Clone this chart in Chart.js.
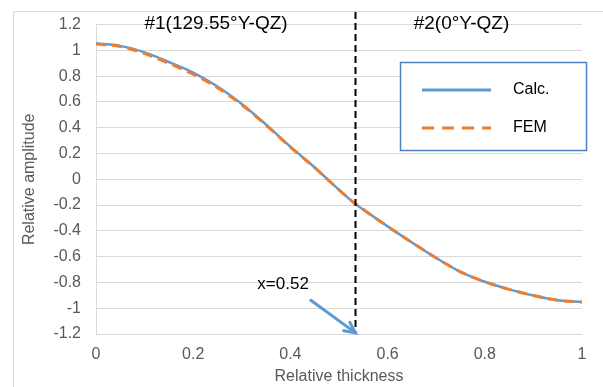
<!DOCTYPE html>
<html>
<head>
<meta charset="utf-8">
<script src="https://cdn.jsdelivr.net/npm/chart.js@4"></script>
<style>
  html, body { margin: 0; padding: 0; background: #fff; }
  #wrap { width: 603px; height: 387px; position: relative; }
</style>
</head>
<body>
<div id="wrap"><canvas id="c" width="603" height="387"></canvas></div>
<script>
// ---- data ----
const thickness = [0, 0.05, 0.1, 0.15, 0.2, 0.25, 0.3, 0.35, 0.4, 0.45, 0.5, 0.53, 0.55, 0.6, 0.65, 0.7, 0.75, 0.8, 0.85, 0.9, 0.95, 1];
const calcValues = [1.054, 1.035, 0.985, 0.91, 0.828, 0.72, 0.584, 0.424, 0.253, 0.092, -0.081, -0.18, -0.235, -0.365, -0.49, -0.61, -0.718, -0.795, -0.854, -0.902, -0.938, -0.951];
const femValues  = [1.05, 1.03, 0.975, 0.90, 0.815, 0.71, 0.578, 0.42, 0.25, 0.09, -0.082, -0.18, -0.235, -0.365, -0.49, -0.61, -0.718, -0.795, -0.854, -0.902, -0.938, -0.952];
const seriesNames = ['Calc.', 'FEM'];
const xTickValues = [0, 0.2, 0.4, 0.6, 0.8, 1];
const xTickLabels = ['0', '0.2', '0.4', '0.6', '0.8', '1'];
const yTickValues = [-1.2, -1, -0.8, -0.6, -0.4, -0.2, 0, 0.2, 0.4, 0.6, 0.8, 1, 1.2];
const yTickLabels = ['-1.2', '-1', '-0.8', '-0.6', '-0.4', '-0.2', '0', '0.2', '0.4', '0.6', '0.8', '1', '1.2'];
const interfaceX = 0.532;
const regionTitles = ['#1(129.55°Y-QZ)', '#2(0°Y-QZ)'];
const annotationText = 'x=0.52';

const BLUE = '#5B9BD5';
const ORANGE = '#ED7D31';
const FONT = "'Liberation Sans', Arial, sans-serif";

const calcData = thickness.map((x, i) => ({ x: x, y: calcValues[i] }));
const femData = thickness.map((x, i) => ({ x: x, y: femValues[i] }));

const decorPlugin = {
  id: 'decor',
  beforeDraw(chart) {
    const ctx = chart.ctx;
    ctx.save();
    ctx.fillStyle = '#fff';
    ctx.fillRect(0, 0, chart.width, chart.height);
    ctx.strokeStyle = '#D9D9D9';
    ctx.lineWidth = 1;
    ctx.beginPath();
    ctx.moveTo(13.5, chart.height);
    ctx.lineTo(13.5, 11.5);
    ctx.lineTo(chart.width, 11.5);
    ctx.stroke();
    ctx.restore();
  },
  afterDatasetsDraw(chart) {
    const ctx = chart.ctx;
    const xs = chart.scales.x, ys = chart.scales.y;
    const area = chart.chartArea;
    ctx.save();
    // interface dashed line
    const px = Math.round(xs.getPixelForValue(interfaceX)) + 0.5;
    ctx.strokeStyle = '#000';
    ctx.lineWidth = 2;
    ctx.setLineDash([7, 4]);
    ctx.beginPath();
    ctx.moveTo(px, 12);
    ctx.lineTo(px, area.bottom);
    ctx.stroke();
    ctx.setLineDash([]);

    // region titles
    ctx.fillStyle = '#000';
    ctx.font = '19px ' + FONT;
    ctx.textAlign = 'center';
    ctx.textBaseline = 'middle';
    ctx.fillText(regionTitles[0], xs.getPixelForValue(0.247), 24);
    ctx.fillText(regionTitles[1], xs.getPixelForValue(0.752), 24);

    // annotation text
    ctx.font = '17px ' + FONT;
    ctx.fillText(annotationText, xs.getPixelForValue(0.385), ys.getPixelForValue(-0.812));

    // arrow
    const x1 = xs.getPixelForValue(0.442), y1 = ys.getPixelForValue(-0.938);
    const x2 = px, y2 = ys.getPixelForValue(-1.2) - 1;
    ctx.strokeStyle = BLUE;
    ctx.lineWidth = 3;
    ctx.lineCap = 'round';
    ctx.beginPath();
    ctx.moveTo(x1, y1);
    ctx.lineTo(x2 - 2, y2 - 1.6);
    ctx.stroke();
    const ang = Math.atan2(y2 - y1, x2 - x1);
    const hl = 12, ha = 0.45;
    ctx.beginPath();
    ctx.moveTo(x2 - hl * Math.cos(ang - ha), y2 - hl * Math.sin(ang - ha));
    ctx.lineTo(x2, y2);
    ctx.lineTo(x2 - hl * Math.cos(ang + ha), y2 - hl * Math.sin(ang + ha));
    ctx.lineJoin = 'miter';
    ctx.stroke();

    // legend box
    const lx = 400.5, ly = 62.5, lw = 186, lh = 88;
    ctx.fillStyle = '#fff';
    ctx.fillRect(lx, ly, lw, lh);
    ctx.strokeStyle = '#4F7FBF';
    ctx.lineWidth = 1.5;
    ctx.lineCap = 'butt';
    ctx.strokeRect(lx, ly, lw, lh);
    const ds = chart.data.datasets;
    const rows = [90, 128];
    const legendDash = [[], [12, 8]];
    ds.forEach((d, i) => {
      ctx.strokeStyle = d.borderColor;
      ctx.lineWidth = 3;
      ctx.setLineDash(legendDash[i]);
      ctx.beginPath();
      ctx.moveTo(422, rows[i]);
      ctx.lineTo(491, rows[i]);
      ctx.stroke();
      ctx.setLineDash([]);
      ctx.fillStyle = '#000';
      ctx.font = '16px ' + FONT;
      ctx.textAlign = 'left';
      ctx.fillText(d.label, 513, rows[i]);
    });
    ctx.restore();
  }
};

new Chart(document.getElementById('c'), {
  type: 'line',
  data: {
    datasets: [
      { label: seriesNames[0], data: calcData, borderColor: BLUE, borderWidth: 2.5, pointRadius: 0, cubicInterpolationMode: 'monotone', fill: false, order: 1 },
      { label: seriesNames[1], data: femData, borderColor: ORANGE, borderWidth: 3, borderDash: [10, 6], pointRadius: 0, cubicInterpolationMode: 'monotone', fill: false, order: 0 }
    ]
  },
  options: {
    responsive: false,
    animation: false,
    devicePixelRatio: 1,
    layout: { padding: { top: 22, right: 21, left: 0, bottom: 0 } },
    plugins: { legend: { display: false }, tooltip: { enabled: false } },
    scales: {
      x: {
        type: 'linear',
        min: 0, max: 1,
        afterBuildTicks(s) { s.ticks = xTickValues.map(v => ({ value: v })); },
        afterFit(s) { s.height = 53; },
        ticks: {
          callback: (v) => xTickLabels[xTickValues.indexOf(v)] ?? '',
          color: '#595959', padding: 11, maxRotation: 0, autoSkip: false,
          font: { family: FONT, size: 16 }
        },
        grid: { display: false, drawTicks: false },
        border: { display: false },
        title: { display: true, text: 'Relative thickness', color: '#595959', padding: { top: 0, bottom: 1 }, font: { family: FONT, size: 16 } }
      },
      y: {
        type: 'linear',
        min: -1.2, max: 1.2,
        afterBuildTicks(s) { s.ticks = yTickValues.map(v => ({ value: v })); },
        afterFit(s) { s.width = 96; },
        ticks: {
          callback: (v) => { const i = yTickValues.findIndex(t => Math.abs(t - v) < 1e-9); return i >= 0 ? yTickLabels[i] : ''; },
          color: '#595959', padding: 15, autoSkip: false,
          font: { family: FONT, size: 16 }
        },
        grid: { color: '#D9D9D9', lineWidth: 1, drawTicks: false },
        border: { display: true, color: '#D9D9D9', width: 1 },
        title: { display: true, text: 'Relative amplitude', color: '#595959', padding: { top: 20, bottom: 0 }, font: { family: FONT, size: 16 } }
      }
    }
  },
  plugins: [decorPlugin]
});
</script>
</body>
</html>
